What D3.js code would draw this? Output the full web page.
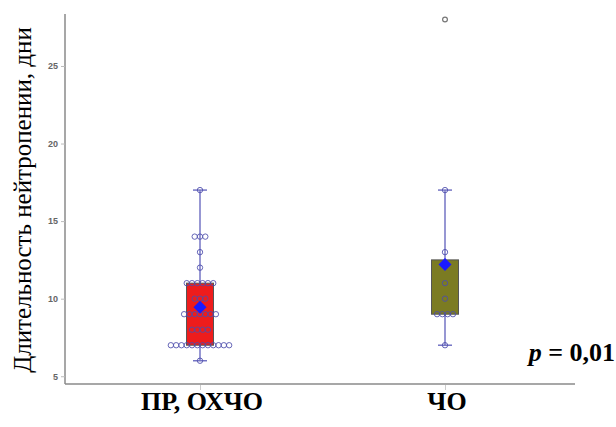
<!DOCTYPE html>
<html>
<head>
<meta charset="utf-8">
<script src="https://cdn.jsdelivr.net/npm/d3@7"></script>
<style>
  html, body { margin: 0; padding: 0; background: #fff; }
  svg { display: block; }
  .serif { font-family: "Liberation Serif", "Times New Roman", Tinos, "DejaVu Serif", serif; }
  .sans { font-family: Arial, "Liberation Sans", sans-serif; }
</style>
</head>
<body>
<svg id="chart" width="616" height="427"></svg>
<script>
// ---- Data ----
const categories = ["ПР, ОХЧО", "ЧО"];
const boxQ1 = [7, 9];
const boxQ3 = [11, 12.5];
const whiskerLow = [6, 7];
const whiskerHigh = [17, 17];
const means = [9.45, 12.2];
const pointsGroup1 = [17, 14, 14, 14, 13, 12, 11, 11, 11, 11, 11, 11, 10, 10, 10,
  9, 9, 9, 9, 9, 9, 9, 8, 8, 8, 8, 7, 7, 7, 7, 7, 7, 7, 7, 7, 7, 7, 7, 6];
const pointsGroup2 = [17, 13, 11, 10, 9, 9, 9, 9, 7];
const outliersGroup1 = [];
const outliersGroup2 = [28];
const yTicks = [5, 10, 15, 20, 25];
const yLabel = "Длительность нейтропении, дни";
const pText = "0,01";

const points = [pointsGroup1, pointsGroup2];
const outliers = [outliersGroup1, outliersGroup2];

// ---- Layout ----
const svg = d3.select("#chart");
const plotLeft = 65, plotRight = 575, plotTop = 14, plotBottom = 384;

const y = d3.scaleLinear().domain([4.5, 28.35]).range([plotBottom, plotTop]);
const x = d3.scalePoint().domain(categories).range([77.5, 567.5]).padding(0.5);

const boxW = 27;
const spacing = 5.3;
const r = 2.7;
const colors = ["#ee1c1c", "#7b7b22"];

// axes lines
svg.append("line").attr("x1", plotLeft).attr("x2", plotLeft)
  .attr("y1", plotTop).attr("y2", plotBottom)
  .attr("stroke", "#8a8a8a").attr("stroke-width", 1.5);
svg.append("line").attr("x1", plotLeft).attr("x2", plotRight)
  .attr("y1", plotBottom).attr("y2", plotBottom)
  .attr("stroke", "#8a8a8a").attr("stroke-width", 1.5);

// y axis ticks via d3 axis
const yAxis = d3.axisLeft(y).tickValues(yTicks).tickSize(4).tickPadding(3);
const gy = svg.append("g").attr("transform", `translate(${plotLeft},0)`).call(yAxis);
gy.attr("font-family", null);
gy.select(".domain").remove();
gy.selectAll(".tick line").attr("stroke", "#bbb");
gy.selectAll(".tick text").attr("fill", "#666").attr("font-size", 9)
  .attr("class", "sans").attr("font-weight", "bold");

// x axis ticks
const xAxis = d3.axisBottom(x).tickSize(5).tickFormat("");
const gx = svg.append("g").attr("transform", `translate(0,${plotBottom + 1})`).call(xAxis);
gx.select(".domain").remove();
gx.selectAll(".tick line").attr("stroke", "#ccc");

// category labels
svg.selectAll(".cat").data(categories).enter().append("text")
  .attr("class", "serif")
  .attr("x", d => x(d) + 2).attr("y", 410)
  .attr("text-anchor", "middle")
  .attr("font-weight", "bold").attr("font-size", 26)
  .text(d => d);

// y label
svg.append("text")
  .attr("class", "serif")
  .attr("transform", `translate(31,${(plotTop + plotBottom) / 2 + 1}) rotate(-90)`)
  .attr("text-anchor", "middle")
  .attr("font-size", 25)
  .text(yLabel);

// p value
const pt = svg.append("text").attr("class", "serif")
  .attr("x", 615).attr("y", 361).attr("text-anchor", "end")
  .attr("font-weight", "bold").attr("font-size", 26);
pt.append("tspan").attr("font-style", "italic").text("p");
pt.append("tspan").text(" = " + pText);

// groups
categories.forEach((c, i) => {
  const cx = x(c);
  const g = svg.append("g");
  g.append("line").attr("x1", cx).attr("x2", cx)
    .attr("y1", y(whiskerLow[i])).attr("y2", y(whiskerHigh[i]))
    .attr("stroke", "#7474c4").attr("stroke-width", 1.5);
  [whiskerLow[i], whiskerHigh[i]].forEach(v => {
    g.append("line").attr("x1", cx - 7).attr("x2", cx + 7)
      .attr("y1", y(v)).attr("y2", y(v))
      .attr("stroke", "#7474c4").attr("stroke-width", 1.5);
  });
  g.append("rect").attr("x", cx - boxW / 2).attr("width", boxW)
    .attr("y", y(boxQ3[i])).attr("height", y(boxQ1[i]) - y(boxQ3[i]))
    .attr("fill", colors[i]).attr("stroke", "#555").attr("stroke-width", 1);

  const counts = d3.rollup(points[i], v => v.length, d => d);
  const seen = new Map();
  const pts = points[i].map(v => {
    const n = counts.get(v);
    const k = seen.get(v) || 0;
    seen.set(v, k + 1);
    return { v, dx: (k - (n - 1) / 2) * spacing };
  });
  g.selectAll(".pt").data(pts).enter().append("circle")
    .attr("cx", d => cx + d.dx).attr("cy", d => y(d.v)).attr("r", r)
    .attr("fill", "none").attr("stroke", "#4c4cac").attr("stroke-width", 1)
    .attr("stroke-opacity", 0.85);

  g.selectAll(".out").data(outliers[i]).enter().append("circle")
    .attr("cx", cx).attr("cy", d => y(d)).attr("r", 2.4)
    .attr("fill", "none").attr("stroke", "#777").attr("stroke-width", 1.2);

  const my = y(means[i]);
  const s = 6.5;
  g.append("path")
    .attr("d", `M${cx},${my - s}L${cx + s},${my}L${cx},${my + s}L${cx - s},${my}Z`)
    .attr("fill", "#1a1aff");
});
</script>
</body>
</html>
